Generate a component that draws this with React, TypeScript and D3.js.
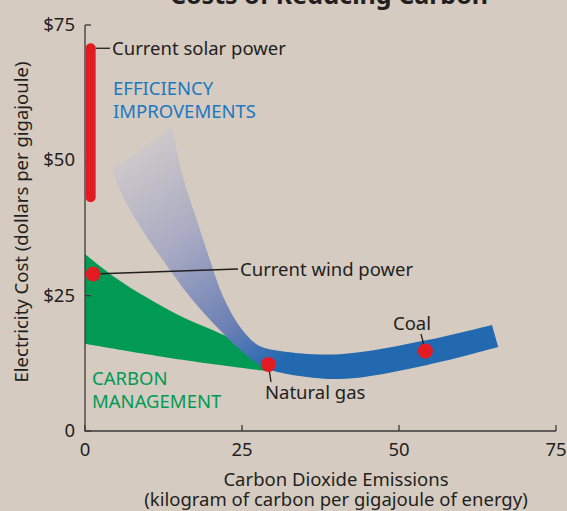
import * as d3 from 'd3';
import React, { useRef, useEffect } from 'react';

// axis ticks
const xTicks = [0, 25, 50, 75];
const yTicks = [0, 25, 50, 75];
const yTickLabels = ['0', '$25', '$50', '$75'];

// current solar power: cost range at ~zero emissions
const solarEmission = 0.9;
const solarCost = [43.2, 70.7];

// red dots
const pointNames = ['Current wind power', 'Natural gas', 'Coal'];
const pointEmission = [1.3, 29.2, 54.2];
const pointCost = [29.0, 12.3, 14.8];

// efficiency improvements band (upper edge left->right, lower edge right->left)
const effUpperX = [13.85, 15.6, 17.8, 19.9, 22.0, 24.7, 27.5, 31.1, 40.6, 54.5, 64.8];
const effUpperY = [56.3, 46.9, 39.0, 31.6, 24.8, 19.2, 15.9, 14.8, 14.2, 16.8, 19.6];
const effLowerX = [65.8, 54.5, 40.6, 30.6, 28.3, 24.7, 21.0, 16.7, 12.4, 8.8, 6.1, 4.3];
const effLowerY = [15.5, 12.2, 9.6, 10.9, 11.8, 15.0, 19.2, 24.8, 31.6, 37.7, 43.2, 48.2];

// carbon management wedge
const carbonUpperX = [0, 4.5, 9.9, 15.1, 20.4, 23.6, 26.5, 28.8];
const carbonUpperY = [32.7, 28.6, 24.6, 21.3, 18.6, 16.9, 15.0, 11.1];
const carbonLowerX = [28.8, 14, 0];
const carbonLowerY = [11.1, 13.4, 16.1];

const BG = '#d5cbc1';
const INK = '#231f20';
const RED = '#e31b23';
const GREEN = '#009a54';
const BLUE = '#2369b0';
const BLUE_TEXT = '#1c78c0';
const FONT = '"Noto Sans", "Open Sans", sans-serif';
const FS = 18.5;

function CarbonChart({ width, height }: { width: number; height: number }) {
    const ref = useRef<SVGSVGElement>(null);

    useEffect(() => {
        const svg = d3.select(ref.current);
        svg.selectAll('*').remove();

        const x = d3.scaleLinear().domain([0, 75]).range([85, 556]);
        const y = d3.scaleLinear().domain([0, 75]).range([431, 25]);

        svg.append('rect').attr('width', width).attr('height', height).attr('fill', BG);

        const defs = svg.append('defs');
        const grad = defs.append('linearGradient')
            .attr('id', 'effGrad')
            .attr('gradientUnits', 'userSpaceOnUse')
            .attr('x1', x(4)).attr('y1', y(54))
            .attr('x2', x(30)).attr('y2', y(12));
        grad.append('stop').attr('offset', 0).attr('stop-color', '#d7d0cb');
        grad.append('stop').attr('offset', 0.45).attr('stop-color', '#a8aac3');
        grad.append('stop').attr('offset', 0.8).attr('stop-color', '#6a7fb4');
        grad.append('stop').attr('offset', 1).attr('stop-color', BLUE);

        const edge = d3.line<[number, number]>()
            .x(d => x(d[0])).y(d => y(d[1]))
            .curve(d3.curveCatmullRom);

        const shape = (ux: number[], uy: number[], lx: number[], ly: number[]) => {
            const up = edge(ux.map((v, i) => [v, uy[i]] as [number, number])) || '';
            const lo = edge(lx.map((v, i) => [v, ly[i]] as [number, number])) || '';
            return up + 'L' + lo.slice(1) + 'Z';
        };

        // carbon management
        svg.append('path')
            .attr('d', shape(carbonUpperX, carbonUpperY, carbonLowerX, carbonLowerY))
            .attr('fill', GREEN);

        // efficiency improvements
        svg.append('path')
            .attr('d', shape(effUpperX, effUpperY, effLowerX, effLowerY))
            .attr('fill', 'url(#effGrad)');

        // axes
        const axis = svg.append('g').attr('stroke', '#3a3a3a').attr('stroke-width', 1.3).attr('fill', 'none');
        axis.append('path').attr('d', `M${x(0)},${y(75)}V${y(0)}H${x(75)}`);
        xTicks.forEach(t => {
            axis.append('line').attr('x1', x(t)).attr('x2', x(t)).attr('y1', y(0)).attr('y2', y(0) - 6);
        });
        yTicks.forEach(t => {
            axis.append('line').attr('x1', x(0)).attr('x2', x(0) + 6).attr('y1', y(t)).attr('y2', y(t));
        });

        const text = svg.append('g').attr('font-family', FONT).attr('fill', INK);

        text.selectAll('text.xt').data(xTicks).enter().append('text')
            .attr('x', d => x(d)).attr('y', 456)
            .attr('text-anchor', 'middle').attr('font-size', FS)
            .text(d => String(d));
        text.selectAll('text.yt').data(yTicks).enter().append('text')
            .attr('x', 75).attr('y', d => y(d) + 6)
            .attr('text-anchor', 'end').attr('font-size', FS)
            .text((d, i) => yTickLabels[i]);

        text.append('text').attr('x', 336).attr('y', 486)
            .attr('text-anchor', 'middle').attr('font-size', FS)
            .text('Carbon Dioxide Emissions');
        text.append('text').attr('x', 336).attr('y', 506)
            .attr('text-anchor', 'middle').attr('font-size', FS)
            .text('(kilogram of carbon per gigajoule of energy)');
        text.append('text')
            .attr('transform', 'translate(28,222) rotate(-90)')
            .attr('text-anchor', 'middle').attr('font-size', FS)
            .text('Electricity Cost (dollars per gigajoule)');

        text.append('text').attr('x', 329).attr('y', 4)
            .attr('text-anchor', 'middle').attr('font-size', 25).attr('font-weight', 'bold')
            .text('Costs of Reducing Carbon');

        // solar bar
        svg.append('line')
            .attr('x1', x(solarEmission)).attr('x2', x(solarEmission))
            .attr('y1', y(solarCost[0])).attr('y2', y(solarCost[1]))
            .attr('stroke', RED).attr('stroke-width', 10).attr('stroke-linecap', 'round');
        svg.append('line')
            .attr('x1', x(solarEmission) + 5).attr('x2', 110)
            .attr('y1', y(solarCost[1])).attr('y2', y(solarCost[1]))
            .attr('stroke', INK).attr('stroke-width', 1.3);
        text.append('text').attr('x', 112).attr('y', y(solarCost[1]) + 7)
            .attr('font-size', FS).text('Current solar power');

        // leader lines and labels for points
        const labelPos = [
            { lx: 238, ly: 269, tx: 240, ty: 276, anchor: 'start' },
            { lx: 271, ly: 382, tx: 265, ty: 399, anchor: 'start' },
            { lx: 421, ly: 334, tx: 412, ty: 330, anchor: 'middle' },
        ];
        pointNames.forEach((name, i) => {
            const p = labelPos[i];
            svg.append('line')
                .attr('x1', x(pointEmission[i])).attr('y1', y(pointCost[i]))
                .attr('x2', p.lx).attr('y2', p.ly)
                .attr('stroke', INK).attr('stroke-width', 1.3);
            text.append('text').attr('x', p.tx).attr('y', p.ty)
                .attr('text-anchor', p.anchor).attr('font-size', FS).text(name);
        });

        svg.selectAll('circle.pt').data(pointNames).enter().append('circle')
            .attr('cx', (d, i) => x(pointEmission[i]))
            .attr('cy', (d, i) => y(pointCost[i]))
            .attr('r', 7.5).attr('fill', RED);

        // region labels
        const eff = text.append('text').attr('fill', BLUE_TEXT).attr('font-size', FS);
        eff.append('tspan').attr('x', 113).attr('y', 95).text('EFFICIENCY');
        eff.append('tspan').attr('x', 113).attr('y', 118).text('IMPROVEMENTS');
        const cm = text.append('text').attr('fill', GREEN).attr('font-size', FS);
        cm.append('tspan').attr('x', 92).attr('y', 385).text('CARBON');
        cm.append('tspan').attr('x', 92).attr('y', 408).text('MANAGEMENT');
    }, [width, height]);

    return <svg ref={ref} width={width} height={height} style={{ display: 'block' }} />;
}

export default function App() {
    return (
        <div style={{ position: 'absolute', left: 0, top: 0 }}>
            <CarbonChart width={567} height={511} />
        </div>
    );
}
